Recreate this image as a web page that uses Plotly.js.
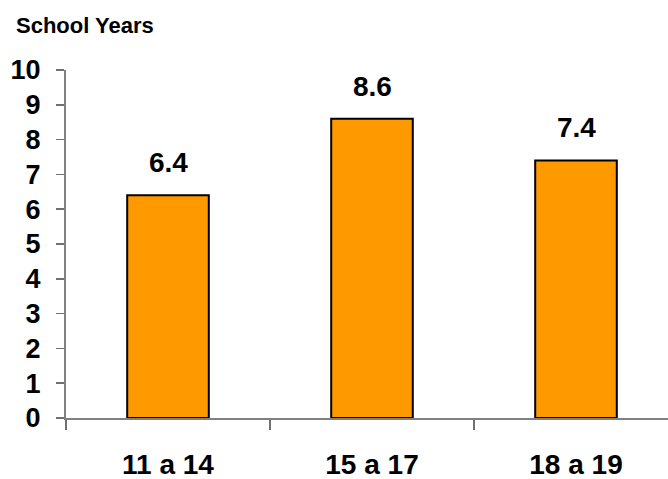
<!DOCTYPE html>
<html>
<head>
<meta charset="utf-8">
<script src="https://cdn.plot.ly/plotly-3.0.1.min.js"></script>
<style>html,body{margin:0;padding:0;background:#fff;}#chart{width:668px;height:479px;}</style>
</head>
<body>
<div id="chart"></div>
<script>
var categories = ["11 a 14", "15 a 17", "18 a 19"];
var values = [6.4, 8.6, 7.4];
var valueLabels = ["6.4", "8.6", "7.4"];
var chartTitle = "School Years";

var font = "Liberation Sans, Arial, sans-serif";

var trace = {
  type: "bar",
  x: categories,
  y: values,
  width: 0.4,
  marker: {color: "#FF9900", line: {color: "#000000", width: 2}},
  hoverinfo: "none"
};

var annotations = categories.map(function (c, i) {
  return {
    x: c, y: values[i], xref: "x", yref: "y",
    text: "<b>" + valueLabels[i] + "</b>",
    showarrow: false, yanchor: "bottom", yshift: 15,
    font: {family: font, size: 28, color: "#000000"}
  };
});

var layout = {
  width: 668, height: 479,
  margin: {l: 66, r: 0, t: 70, b: 61, pad: 0},
  paper_bgcolor: "#ffffff", plot_bgcolor: "#ffffff",
  showlegend: false,
  title: {
    text: "<b>" + chartTitle + "</b>",
    font: {family: font, size: 22, color: "#000000"},
    xref: "container", x: 16 / 668, xanchor: "left",
    yref: "container", y: 1 - 25 / 479, yanchor: "middle"
  },
  xaxis: {
    type: "category",
    range: [-0.5, 2.451],
    showline: true, linecolor: "#808080", linewidth: 2,
    ticks: "outside", ticklen: 10, tickwidth: 1.5, tickcolor: "#707070",
    tickson: "boundaries",
    showgrid: false, zeroline: false,
    ticklabelstandoff: 20,
    tickfont: {family: font, size: 28, color: "#000000", weight: "bold"}
  },
  yaxis: {
    range: [0, 10], dtick: 1, tick0: 0,
    showline: true, linecolor: "#808080", linewidth: 2,
    ticks: "outside", ticklen: 8, tickwidth: 1.5, tickcolor: "#707070",
    showgrid: false, zeroline: false,
    ticklabelstandoff: 10,
    tickfont: {family: font, size: 27, color: "#000000", weight: "bold"}
  },
  annotations: annotations
};

Plotly.newPlot("chart", [trace], layout, {displayModeBar: false, staticPlot: true});
</script>
</body>
</html>
